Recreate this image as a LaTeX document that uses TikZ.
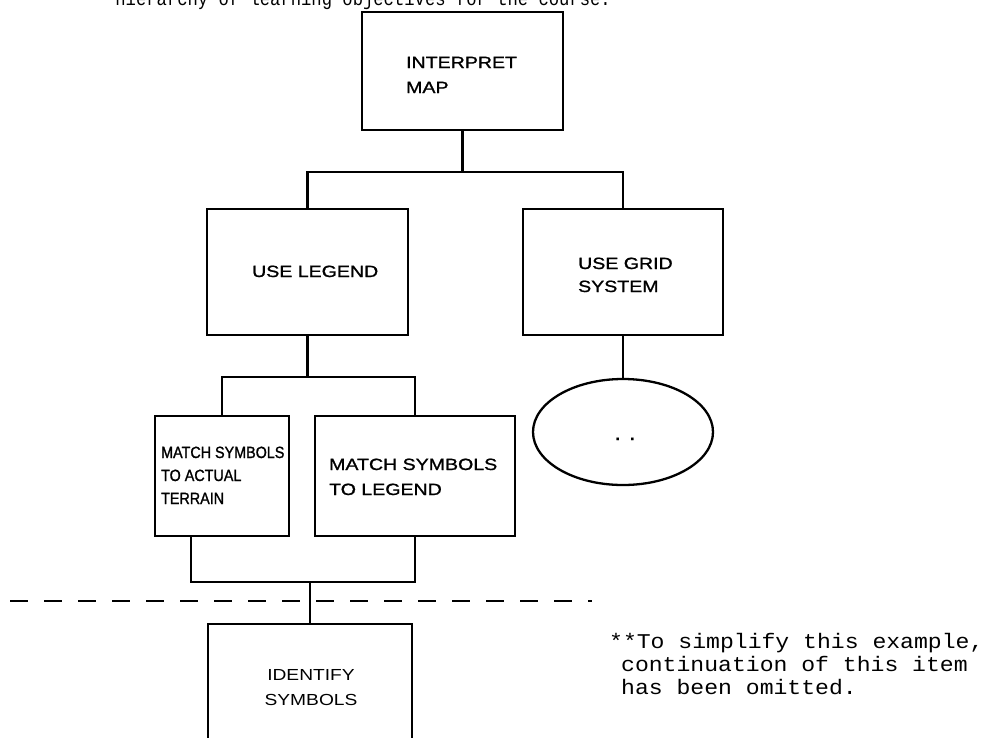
\documentclass[tikz,border=0pt]{standalone}
\usepackage{fontspec}
\usetikzlibrary{shapes.geometric}
\newfontfamily\boxfont[FakeStretch=1.2,FakeBold=1.2]{Liberation Sans}
\newfontfamily\boxfontl[FakeStretch=1.2]{Liberation Sans}
\newfontfamily\boxfontn[FakeStretch=0.88,FakeBold=1.2]{Liberation Sans}
\newfontfamily\typefont[FakeStretch=1.1]{Liberation Mono}
\newfontfamily\topfont[FakeStretch=0.86]{Liberation Mono}
\begin{document}
\begin{tikzpicture}[x=1pt,y=-1pt,
  line width=2.3pt,
  objbox/.style={draw, rectangle, inner sep=0pt},
  lbl/.style={anchor=base west, inner sep=0pt, font=\boxfont\fontsize{16.3}{20}\selectfont},
  lbln/.style={anchor=base west, inner sep=0pt, font=\boxfontn\fontsize{16.3}{20}\selectfont},
  lblc/.style={anchor=base, inner sep=0pt, font=\boxfontl\fontsize{16}{20}\selectfont},
  note/.style={anchor=base west, inner sep=0pt, font=\typefont\fontsize{21}{24}\selectfont},
]
\useasboundingbox[fill=white] (0,0) rectangle (982,737);

% top cut-off line
\node[anchor=base east, inner sep=0pt, font=\topfont\fontsize{20}{22}\selectfont] (toptext) at (612,5) {hierarchy of learning objectives for the course.};

% boxes
\node[objbox, minimum width=201pt, minimum height=118pt] (IM) at (462.5,71) {};
\node[objbox, minimum width=201pt, minimum height=126pt] (UL) at (307.5,272) {};
\node[objbox, minimum width=200pt, minimum height=126pt] (UG) at (623,272) {};
\node[objbox, minimum width=134pt, minimum height=120pt] (MA) at (222,476) {};
\node[objbox, minimum width=200pt, minimum height=120pt] (ML) at (415,476) {};
\node[objbox, minimum width=204pt, minimum height=140pt] (ID) at (310,694) {};
\node[draw, ellipse, minimum width=180pt, minimum height=106pt, inner sep=0pt] (EL) at (623,432) {};

% texts
\node[lbl] (t1) at (405,68) {INTERPRET};
\node[lbl] (t2) at (405,93) {MAP};
\node[lbl] (t3) at (251,277) {USE LEGEND};
\node[lbl] (t4) at (577,269) {USE GRID};
\node[lbl] (t5) at (577,292) {SYSTEM};
\node[lbln] (t6) at (160,458) {MATCH SYMBOLS};
\node[lbln] (t7) at (160,481) {TO ACTUAL};
\node[lbln] (t8) at (160,504) {TERRAIN};
\node[lbl] (t9) at (328,470) {MATCH SYMBOLS};
\node[lbl] (t10) at (328,495) {TO LEGEND};
\node[lblc] (t11) at (311,680) {IDENTIFY};
\node[lblc] (t12) at (311,705) {SYMBOLS};
\node[anchor=base, inner sep=0pt, font=\boxfont\fontsize{20}{20}\selectfont] (dots) at (625,440) {.\hspace{8pt}.};

% footnote
\node[note] (n1) at (608,648) {**To simplify this example,};
\node[note] (n2) at (620,671) {continuation of this item};
\node[note] (n3) at (620,694) {has been omitted.};

% connectors
\coordinate (j1) at (IM.south |- 0,172);
\coordinate (j2) at (UL.south |- 0,377);
\coordinate (j3) at (ID.north |- 0,582);
\draw (IM.south) -- (j1);
\draw (UL.north) |- (j1) -| (UG.north);
\draw (UL.south) -- (j2);
\draw (MA.north) |- (j2) -| (ML.north);
\draw (UG.south) -- (EL.north);
\draw ([xshift=-31pt]MA.south) |- (j3) -| (ML.south);
\draw (j3) -- (ID.north);

% dashed separator
\coordinate (d1) at (10,601);
\coordinate (d2) at (592,601);
\draw[dash pattern=on 18pt off 16pt] (d1) -- (d2);
\end{tikzpicture}
\end{document}
